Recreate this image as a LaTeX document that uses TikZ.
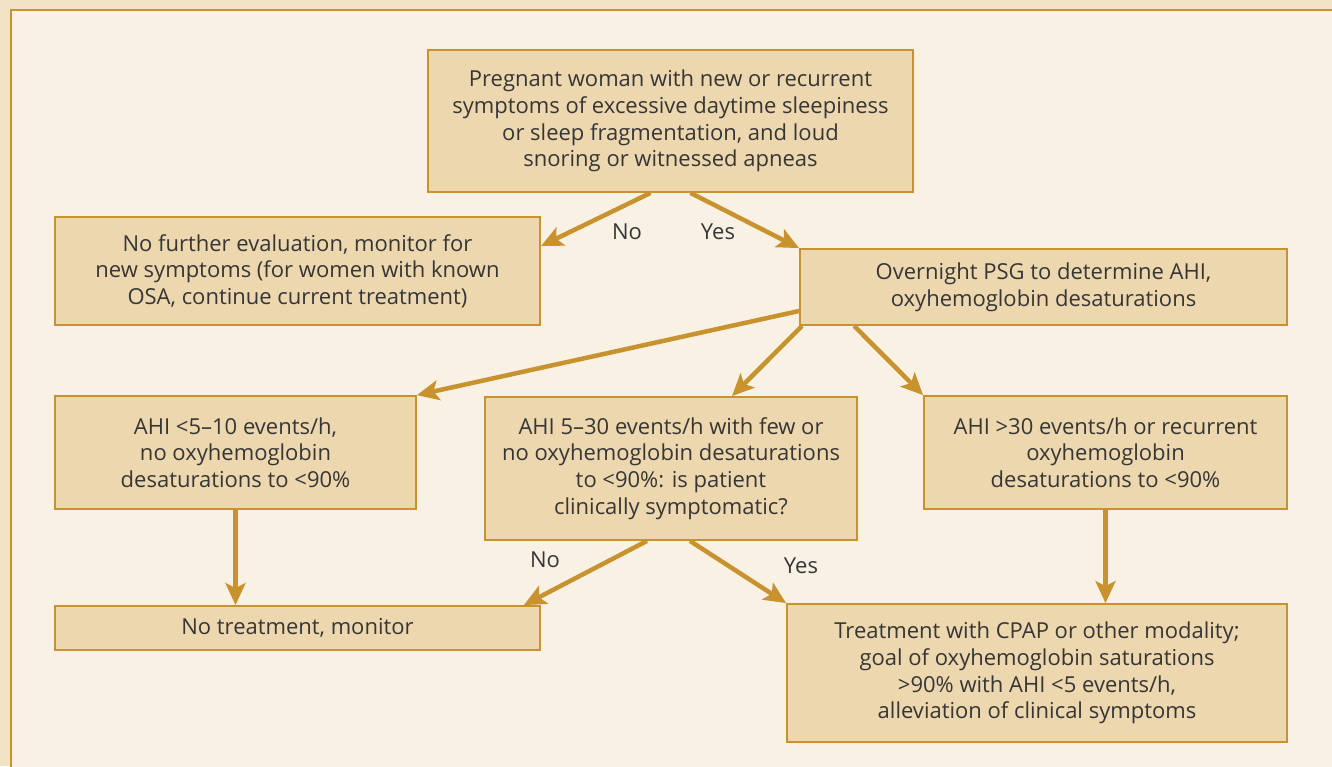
\documentclass[tikz,border=0pt]{standalone}
\usepackage{fontspec}
\setmainfont{Open Sans}
\usetikzlibrary{arrows.meta,positioning}

\definecolor{pagetan}{HTML}{F3E3C5}
\definecolor{panel}{HTML}{F9F1E3}
\definecolor{boxfill}{HTML}{EDD7AE}
\definecolor{gold}{HTML}{C8922E}
\definecolor{ink}{HTML}{363636}

\begin{document}
\begin{tikzpicture}[x=1pt,y=-1pt,
    box/.style={draw=gold, line width=1.8pt, fill=boxfill, text=ink,
      align=center, inner sep=0pt, font=\fontsize{22}{26.6}\selectfont},
    flow/.style={draw=gold, line width=4.5pt,
      -{Stealth[length=22pt,width=20pt,inset=5pt]}},
    lbl/.style={text=ink, font=\fontsize{22}{26.6}\selectfont}]
    % page and panel
    \useasboundingbox (0,0) rectangle (1332,766);
    \fill[pagetan] (0,0) rectangle (1332,766);
    \clip (0,0) rectangle (1332,766);
    \draw[gold, line width=2.2pt, fill=panel] (11,10) rectangle (1350,790);
    % boxes
    \node[box, minimum width=485pt, minimum height=142pt] (start) at (670.5,121)
      {Pregnant woman with new or recurrent\\symptoms of excessive daytime sleepiness\\or sleep fragmentation, and loud\\snoring or witnessed apneas};
    \node[box, minimum width=485pt, minimum height=108pt] (noeval) at (297.5,271)
      {No further evaluation, monitor for\\new symptoms (for women with known\\OSA, continue current treatment)};
    \node[box, minimum width=487pt, minimum height=76pt] (psg) at (1043.5,287)
      {Overnight PSG to determine AHI,\\oxyhemoglobin desaturations};
    \node[box, minimum width=361pt, minimum height=113pt] (mild) at (235.5,452.5)
      {AHI <5--10 events/h,\\no oxyhemoglobin\\desaturations to <90\%};
    \node[box, minimum width=372pt, minimum height=143pt] (moderate) at (671,468.5)
      {AHI 5--30 events/h with few or\\no oxyhemoglobin desaturations\\to <90\%: is patient\\clinically symptomatic?};
    \node[box, minimum width=363pt, minimum height=113pt] (severe) at (1105.5,452.5)
      {AHI >30 events/h or recurrent\\oxyhemoglobin\\desaturations to <90\%};
    \node[box, minimum width=485pt, minimum height=44pt] (notreat) at (297.5,628)
      {No treatment, monitor};
    \node[box, minimum width=500pt, minimum height=138pt] (treat) at (1037,673)
      {Treatment with CPAP or other modality;\\goal of oxyhemoglobin saturations\\>90\% with AHI <5 events/h,\\alleviation of clinical symptoms};
    % connectors
    \draw[flow] ([xshift=-20pt]start.south) -- ([yshift=-30pt]noeval.north east);
    \draw[flow] ([xshift=20pt]start.south) -- (psg.north west);
    \draw[flow] ([yshift=-24pt]psg.west) -- (mild.north east);
    \draw[flow] ([xshift=3pt]psg.south west) -- ([xshift=61pt]moderate.north);
    \draw[flow] ([xshift=55pt]psg.south west) -- (severe.north west);
    \draw[flow] (mild.south) -- (mild.south |- notreat.north);
    \draw[flow] ([xshift=-24pt]moderate.south) -- ([xshift=-17pt]notreat.north east);
    \draw[flow] ([xshift=19pt]moderate.south) -- (treat.north west);
    \draw[flow] (severe.south) -- (severe.south |- treat.north);
    % branch labels
    \node[lbl] (no1) at (627,232) {No};
    \node[lbl] (yes1) at (718,232) {Yes};
    \node[lbl] (no2) at (545,560) {No};
    \node[lbl] (yes2) at (801,566) {Yes};
\end{tikzpicture}
\end{document}
